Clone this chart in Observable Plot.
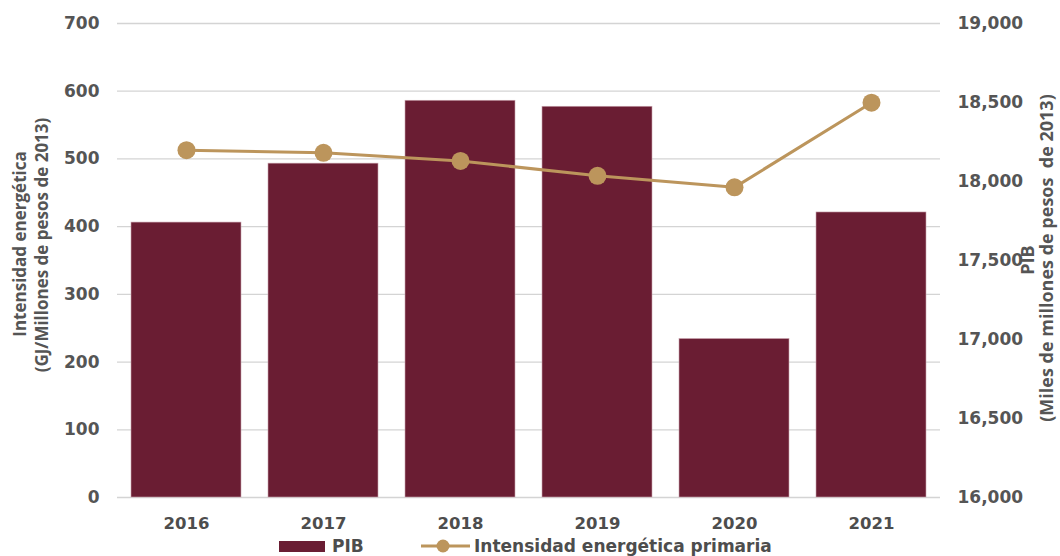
<!DOCTYPE html>
<html>
<head>
<meta charset="utf-8">
<script src="https://cdn.jsdelivr.net/npm/d3@7"></script>
<script src="https://cdn.jsdelivr.net/npm/@observablehq/plot@0.6"></script>
<style>
  html, body { margin: 0; padding: 0; background: #fff; }
  #wrap { position: relative; width: 1060px; height: 556px; overflow: hidden; }
  #legend { position: absolute; left: 0; top: 536px; width: 1060px; height: 20px;
            font-family: "DejaVu Sans", sans-serif; font-weight: 700; font-size: 17px; color: #4d4d4d; }
  #legend .item { position: absolute; top: 0; display: flex; align-items: center; height: 20px; white-space: nowrap; }
</style>
</head>
<body>
<div id="wrap">
  <div id="chart"></div>
  <div id="legend"></div>
</div>
<script>
const years = ["2016", "2017", "2018", "2019", "2020", "2021"];
const pib = [17740, 18113, 18511, 18473, 17003, 17804];
const intensidad = [513, 509, 497, 475, 458, 583];
const leftTicks = [0, 100, 200, 300, 400, 500, 600, 700];
const rightTicks = [16000, 16500, 17000, 17500, 18000, 18500, 19000];
const leftDomain = [0, 700];
const rightDomain = [16000, 19000];

const barColor = "#6A1D33";
const lineColor = "#BC955C";
const textColor = "#555555";

// map right-axis (PIB) values into the shared left y scale
const toLeft = v => (v - rightDomain[0]) / (rightDomain[1] - rightDomain[0]) * (leftDomain[1] - leftDomain[0]) + leftDomain[0];
const fromLeft = v => (v - leftDomain[0]) / (leftDomain[1] - leftDomain[0]) * (rightDomain[1] - rightDomain[0]) + rightDomain[0];

const table = years.map((y, i) => ({year: y, pib: pib[i], pibLeft: toLeft(pib[i]), intensidad: intensidad[i]}));

const tickFont = {fontFamily: "'DejaVu Sans', sans-serif", fontWeight: 700, fontSize: 17};

const chart = Plot.plot({
  width: 1060,
  height: 536,
  marginLeft: 117,
  marginRight: 120,
  marginTop: 23,
  marginBottom: 39,
  style: {fontFamily: "'DejaVu Sans', sans-serif", background: "#fff"},
  x: {domain: years, paddingInner: 0.2, paddingOuter: 0.1, label: null},
  y: {domain: leftDomain, label: null},
  marks: [
    Plot.gridY(leftTicks, {stroke: "#d4d4d4", strokeOpacity: 1, strokeWidth: 1.3}),
    Plot.barY(table, {x: "year", y: "pibLeft", fill: barColor, stroke: "#c9a3ae", strokeWidth: 0.6}),
    Plot.line(table, {x: "year", y: "intensidad", stroke: lineColor, strokeWidth: 3}),
    Plot.dot(table, {x: "year", y: "intensidad", r: 9, fill: lineColor}),
    Plot.axisY(leftTicks, {anchor: "left", tickSize: 0, tickPadding: 18, label: null, color: textColor, ...tickFont}),
    Plot.axisY(rightTicks.map(toLeft), {anchor: "right", tickSize: 0, tickPadding: 17, label: null, color: textColor,
      tickFormat: d => d3.format(",")(Math.round(fromLeft(d))), ...tickFont}),
    Plot.axisX({tickSize: 0, tickPadding: 20, label: null, color: "#4d4d4d", fontFamily: "'DejaVu Sans', sans-serif", fontWeight: 700, fontSize: 16.5})
  ]
});
document.getElementById("chart").appendChild(chart);

// axis titles
const svg = d3.select(chart);
const titleStyle = (t, size) => t.attr("font-family", "'Open Sans', sans-serif").attr("font-weight", 700)
  .attr("font-size", size).attr("fill", textColor).attr("text-anchor", "middle");
svg.append("text").attr("transform", "translate(26,244) rotate(-90)").text("Intensidad energética").call(titleStyle, 17);
svg.append("text").attr("transform", "translate(48,245) rotate(-90)").text("(GJ/Millones de pesos de 2013)").call(titleStyle, 17);
svg.append("text").attr("transform", "translate(1034,260) rotate(-90)").text("PIB").call(titleStyle, 18);
svg.append("text").attr("transform", "translate(1053,258) rotate(-90)").attr("xml:space", "preserve").text("(Miles de millones de pesos  de 2013)").call(titleStyle, 18);

// legend
const legend = document.getElementById("legend");
legend.innerHTML = `
  <div class="item" style="left:279px">
    <span style="display:inline-block;width:46px;height:11px;background:${barColor};margin-right:7px"></span>PIB
  </div>
  <div class="item" style="left:421px">
    <svg width="50" height="20" style="margin-right:3px"><line x1="0" y1="10" x2="49" y2="10" stroke="${lineColor}" stroke-width="3"/><circle cx="22" cy="10" r="6.5" fill="${lineColor}"/></svg>Intensidad energética primaria
  </div>`;
</script>
</body>
</html>
